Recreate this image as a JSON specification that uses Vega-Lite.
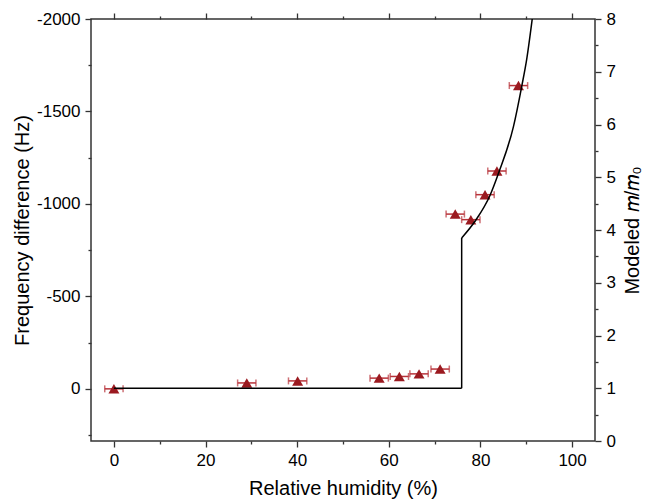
{
  "$schema": "https://vega.github.io/schema/vega-lite/v6.json",
  "width": 504,
  "height": 422,
  "autosize": "none",
  "padding": {"left": 91, "top": 19, "right": 50, "bottom": 60},
  "background": "white",
  "config": {
    "view": {"stroke": "#333333", "strokeWidth": 1.5},
    "font": "Liberation Sans",
    "axis": {
      "labelFont": "Liberation Sans",
      "titleFont": "Liberation Sans",
      "labelFontSize": 17,
      "titleFontSize": 20,
      "titleFontWeight": "normal",
      "labelColor": "#000000",
      "titleColor": "#000000",
      "tickColor": "#333333",
      "tickWidth": 1.3,
      "domain": false,
      "grid": false
    }
  },
  "datasets": {
    "obs": [
      {"rh": 0, "lo": -2, "hi": 2, "hz": 0},
      {"rh": 29.0, "lo": 27.0, "hi": 31.0, "hz": -32},
      {"rh": 40.1, "lo": 38.1, "hi": 42.1, "hz": -43},
      {"rh": 57.9, "lo": 55.9, "hi": 59.9, "hz": -58},
      {"rh": 62.3, "lo": 60.3, "hi": 64.3, "hz": -67},
      {"rh": 66.6, "lo": 64.6, "hi": 68.6, "hz": -81},
      {"rh": 71.2, "lo": 69.2, "hi": 73.2, "hz": -107},
      {"rh": 74.5, "lo": 72.5, "hi": 76.5, "hz": -945},
      {"rh": 77.9, "lo": 75.9, "hi": 79.9, "hz": -915},
      {"rh": 81.0, "lo": 79.0, "hi": 83.0, "hz": -1050},
      {"rh": 83.6, "lo": 81.6, "hi": 85.6, "hz": -1178},
      {"rh": 88.3, "lo": 86.3, "hi": 90.3, "hz": -1640}
    ],
    "model": [
      {"seg": "a", "rh": 0, "m": 1},
      {"seg": "a", "rh": 75.9, "m": 1},
      {"seg": "b", "rh": 75.9, "m": 1},
      {"seg": "b", "rh": 75.9, "m": 3.85},
      {"seg": "c", "rh": 75.9, "m": 3.85},
      {"seg": "c", "rh": 79.0, "m": 4.19},
      {"seg": "c", "rh": 82.1, "m": 4.66},
      {"seg": "c", "rh": 84.0, "m": 5.09},
      {"seg": "c", "rh": 87.2, "m": 5.96},
      {"seg": "c", "rh": 89.0, "m": 6.72},
      {"seg": "c", "rh": 90.1, "m": 7.24},
      {"seg": "c", "rh": 91.3, "m": 8.0}
    ]
  },
  "layer": [
    {
      "data": {"name": "obs"},
      "mark": {"type": "errorbar", "ticks": {"size": 7}, "color": "#b8333a", "thickness": 1.5},
      "encoding": {
        "x": {"field": "lo", "type": "quantitative",
          "scale": {"domain": [-5, 105], "nice": false, "zero": false},
          "axis": {"orient": "bottom", "title": "Relative humidity (%)", "values": [0, 20, 40, 60, 80, 100], "tickSize": 6, "labelPadding": 5, "titlePadding": 10}},
        "x2": {"field": "hi"},
        "y": {"field": "hz", "type": "quantitative",
          "scale": {"domain": [-2000, 282], "reverse": true, "nice": false, "zero": false},
          "axis": {"orient": "left", "title": "Frequency difference (Hz)", "values": [-2000, -1500, -1000, -500, 0], "labelExpr": "'' + datum.value", "tickSize": 6, "labelPadding": 5, "titlePadding": 4}}
      }
    },
    {
      "data": {"name": "obs"},
      "mark": {"type": "point", "shape": "triangle-up", "filled": true, "size": 120, "color": "#9b1a20", "opacity": 1},
      "encoding": {
        "x": {"field": "rh", "type": "quantitative",
          "scale": {"domain": [-5, 105], "nice": false, "zero": false},
          "axis": {"orient": "top", "title": null, "values": [0, 20, 40, 60, 80, 100], "labels": false, "tickSize": 6}},
        "y": {"field": "hz", "type": "quantitative",
          "scale": {"domain": [-2000, 282], "reverse": true, "nice": false, "zero": false},
          "axis": {"orient": "left", "title": null, "values": [-1750, -1250, -750, -250, 250], "labels": false, "tickSize": 3}}
      }
    },
    {
      "data": {"name": "model"},
      "mark": {"type": "line", "color": "#000000", "strokeWidth": 1.5, "interpolate": "monotone", "clip": true},
      "encoding": {
        "detail": {"field": "seg", "type": "nominal"},
        "x": {"field": "rh", "type": "quantitative",
          "scale": {"domain": [-5, 105], "nice": false, "zero": false},
          "axis": {"orient": "bottom", "title": null, "values": [10, 30, 50, 70, 90], "labels": false, "tickSize": 3}},
        "y": {"field": "m", "type": "quantitative",
          "scale": {"domain": [0, 8], "nice": false},
          "axis": {"orient": "right", "title": "Modeled 𝑚/𝑚₀", "titleAngle": -90, "titleBaseline": "top", "values": [0, 1, 2, 3, 4, 5, 6, 7, 8], "tickSize": 6, "labelPadding": 5, "titlePadding": 7}}
      }
    },
    {
      "data": {"name": "model"},
      "mark": {"type": "line", "strokeOpacity": 0, "opacity": 0},
      "encoding": {
        "detail": {"field": "seg", "type": "nominal"},
        "x": {"field": "rh", "type": "quantitative",
          "scale": {"domain": [-5, 105], "nice": false, "zero": false},
          "axis": {"orient": "top", "title": null, "values": [10, 30, 50, 70, 90], "labels": false, "tickSize": 3}},
        "y": {"field": "m", "type": "quantitative",
          "scale": {"domain": [0, 8], "nice": false},
          "axis": {"orient": "right", "title": null, "values": [0.5, 1.5, 2.5, 3.5, 4.5, 5.5, 6.5, 7.5], "labels": false, "tickSize": 3}}
      }
    }
  ],
  "resolve": {
    "scale": {"x": "independent", "y": "independent"},
    "axis": {"x": "independent", "y": "independent"}
  }
}
